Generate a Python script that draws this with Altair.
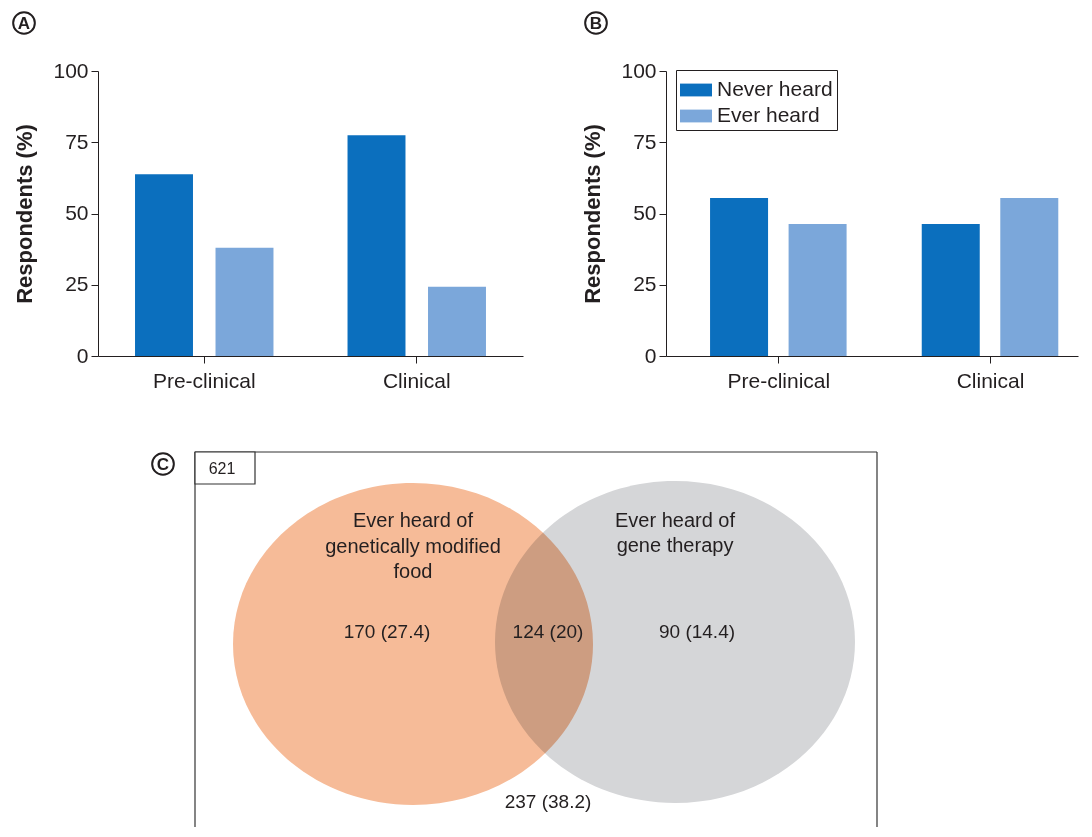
import altair as alt
import pandas as pd

FONT = "Liberation Sans"
INK = "#231F20"

# ---------------- data (panels A and B) ----------------
groups = ["Pre-clinical", "Clinical"]
series = ["Never heard", "Ever heard"]
a_never = [63.8, 77.5]
a_ever = [38.0, 24.3]
b_never = [55.4, 46.3]
b_ever = [46.3, 55.4]
y_ticks = [0, 25, 50, 75, 100]
bar_colors = ["#0B6FBE", "#7BA7DA"]

# ---------------- data (panel C, Venn) ----------------
venn_sets = ["Ever heard of genetically modified food", "Ever heard of gene therapy"]
venn_cx = [413, 675]
venn_cy = [645, 643]
venn_rx = [180, 180]
venn_fill = ["#F6BB98", "#D5D6D8"]

set_label_lines = ["Ever heard of", "genetically modified", "food", "Ever heard of", "gene therapy"]
set_label_x = [413, 413, 413, 675, 675]
set_label_y = [522, 548, 573, 522, 547]

region_labels = ["170 (27.4)", "124 (20)", "90 (14.4)", "237 (38.2)"]
region_x = [387, 548, 697, 548]
region_y = [633, 633, 633, 803]

total_label = ["621"]

# Venn panel geometry (its own coordinate frame)
C_X0, C_Y0, C_W, C_H = 98, 444, 984, 384
frame_x = [195, 195, 877]
frame_x2 = [195, 877, 877]
frame_y = [453, 453, 453]
frame_y2 = [C_Y0 + C_H, 453, C_Y0 + C_H]

BAR_W = 58


def bars_df(never, ever):
    rows = []
    for i, (g, n, e) in enumerate(zip(groups, never, ever)):
        rows.append({"group": g, "gi": i, "series": series[0], "value": n})
        rows.append({"group": g, "gi": i, "series": series[1], "value": e})
    return pd.DataFrame(rows)


def panel_label(letter, px, py):
    d = pd.DataFrame({"t": [letter]})
    circ = alt.Chart(d).mark_point(
        shape="circle", size=470, filled=False, stroke=INK, strokeWidth=2, opacity=1
    ).encode(x=alt.value(px), y=alt.value(py))
    txt = alt.Chart(d).mark_text(
        font=FONT, fontWeight="bold", fontSize=17, color=INK, align="center", baseline="middle", dy=1
    ).encode(x=alt.value(px), y=alt.value(py), text="t:N")
    return circ + txt


def y_enc():
    return alt.Y("value:Q", scale=alt.Scale(domain=[0, 100], nice=False),
                 axis=alt.Axis(values=y_ticks, title="Respondents (%)", titleFontSize=22,
                               titleFontWeight="bold", titleFont=FONT, titleColor=INK,
                               labelFontSize=21, labelFont=FONT, labelColor=INK, tickSize=7,
                               tickColor=INK, domainColor=INK, grid=False, titlePadding=16,
                               labelPadding=3))


def color_enc(legend):
    return alt.Color("series:N", scale=alt.Scale(domain=series, range=bar_colors), legend=legend)


x_axis_kw = dict(title=None, labelAngle=0, labelFontSize=21, labelFont=FONT, labelColor=INK,
                 tickSize=7, tickColor=INK, domainColor=INK, labelPadding=7, grid=False)

# ---- Panel A: band scale with dodged bars
bars_a = alt.Chart(bars_df(a_never, a_ever)).mark_bar(opacity=1).encode(
    x=alt.X("group:N", sort=groups, scale=alt.Scale(paddingInner=0, paddingOuter=0),
            axis=alt.Axis(**x_axis_kw)),
    xOffset=alt.XOffset("series:N", sort=series, scale=alt.Scale(paddingInner=0.28, paddingOuter=0.46)),
    y=y_enc(),
    color=color_enc(None),
)
panel_a = alt.layer(bars_a, panel_label("A", -74, -48)).properties(width=425, height=285)

# ---- Panel B: group index on a linear axis (the figure crops this panel on the right)
b_df = bars_df(b_never, b_ever)
dodge = {series[0]: -0.1855, series[1]: 0.1855}
b_df["pos"] = b_df["gi"] + b_df["series"].map(dodge)
label_expr = "datum.value == 0 ? '%s' : '%s'" % (groups[0], groups[1])

legend_b = alt.Legend(
    title=None, orient="none", legendX=10, legendY=-1, direction="vertical",
    labelFontSize=21, labelFont=FONT, labelColor=INK, labelOffset=5,
    symbolType="M-1,-0.4H1V0.4H-1Z", symbolSize=1024, symbolStrokeWidth=0,
    symbolOpacity=1, strokeColor=INK, fillColor="white", padding=4, rowPadding=0,
)
bars_b = alt.Chart(b_df).mark_bar(opacity=1, width=BAR_W).encode(
    x=alt.X("pos:Q", scale=alt.Scale(domain=[-0.507, 1.392], nice=False, zero=False),
            axis=alt.Axis(values=[0, 1], labelExpr=label_expr, **x_axis_kw)),
    y=y_enc(),
    color=color_enc(legend_b),
)
panel_b = alt.layer(bars_b, panel_label("B", -70, -48)).properties(width=412, height=285)

top = alt.hconcat(panel_a, panel_b, spacing=58).resolve_scale(color="independent").resolve_legend(color="independent")

# ---------------- Venn ----------------
xs = alt.Scale(domain=[C_X0, C_X0 + C_W], nice=False, zero=False)
ys = alt.Scale(domain=[C_Y0, C_Y0 + C_H], nice=False, zero=False, reverse=True)

ell_path = ("M1,0C1,0.494,0.552,0.894,0,0.894C-0.552,0.894,-1,0.494,-1,0"
            "C-1,-0.494,-0.552,-0.894,0,-0.894C0.552,-0.894,1,-0.494,1,0Z")
venn_df = pd.DataFrame({"set": venn_sets, "cx": venn_cx, "cy": venn_cy, "rx": venn_rx, "fill": venn_fill})
venn_df["size"] = (2 * venn_df["rx"]) ** 2

ellipses = alt.Chart(venn_df).mark_point(
    shape=ell_path, filled=True, opacity=1, strokeWidth=0, blend="multiply"
).encode(
    x=alt.X("cx:Q", scale=xs, axis=None),
    y=alt.Y("cy:Q", scale=ys, axis=None),
    size=alt.Size("size:Q", scale=None),
    color=alt.Color("fill:N", scale=None),
    order=alt.Order("cx:Q"),
)

frame = alt.Chart(pd.DataFrame({"x": frame_x, "x2": frame_x2, "y": frame_y, "y2": frame_y2})).mark_rule(
    color="#333333", strokeWidth=1.2
).encode(x=alt.X("x:Q", scale=xs, axis=None), x2="x2:Q", y=alt.Y("y:Q", scale=ys, axis=None), y2="y2:Q")

total_box = alt.Chart(pd.DataFrame({"x": [195], "x2": [255], "y": [453], "y2": [485]})).mark_rect(
    fill="white", stroke="#333333", strokeWidth=1.2
).encode(x=alt.X("x:Q", scale=xs, axis=None), x2="x2:Q", y=alt.Y("y:Q", scale=ys, axis=None), y2="y2:Q")

total_text = alt.Chart(pd.DataFrame({"t": total_label, "x": [222], "y": [470]})).mark_text(
    font=FONT, fontSize=16, color=INK, align="center", baseline="middle"
).encode(x=alt.X("x:Q", scale=xs, axis=None), y=alt.Y("y:Q", scale=ys, axis=None), text="t:N")

set_text = alt.Chart(pd.DataFrame({"t": set_label_lines, "x": set_label_x, "y": set_label_y})).mark_text(
    font=FONT, fontSize=20, color=INK, align="center", baseline="middle"
).encode(x=alt.X("x:Q", scale=xs, axis=None), y=alt.Y("y:Q", scale=ys, axis=None), text="t:N")

region_text = alt.Chart(pd.DataFrame({"t": region_labels, "x": region_x, "y": region_y})).mark_text(
    font=FONT, fontSize=19, color=INK, align="center", baseline="middle"
).encode(x=alt.X("x:Q", scale=xs, axis=None), y=alt.Y("y:Q", scale=ys, axis=None), text="t:N")

c_lab = pd.DataFrame({"t": ["C"], "x": [163], "y": [465]})
c_circ = alt.Chart(c_lab).mark_point(shape="circle", size=470, filled=False, stroke=INK, strokeWidth=2, opacity=1).encode(
    x=alt.X("x:Q", scale=xs, axis=None), y=alt.Y("y:Q", scale=ys, axis=None))
c_txt = alt.Chart(c_lab).mark_text(font=FONT, fontWeight="bold", fontSize=17, color=INK, align="center",
                                   baseline="middle", dy=1).encode(
    x=alt.X("x:Q", scale=xs, axis=None), y=alt.Y("y:Q", scale=ys, axis=None), text="t:N")

panel_c = alt.layer(ellipses, frame, total_box, total_text, set_text, region_text, c_circ, c_txt).properties(
    width=C_W, height=C_H
)

chart = alt.vconcat(top, panel_c, spacing=52).properties(
    padding={"left": 1, "top": 0, "right": 0, "bottom": 0}
).configure(font=FONT).configure_view(stroke=None)

chart.save("out.html", embed_options={"renderer": "svg", "actions": False})
